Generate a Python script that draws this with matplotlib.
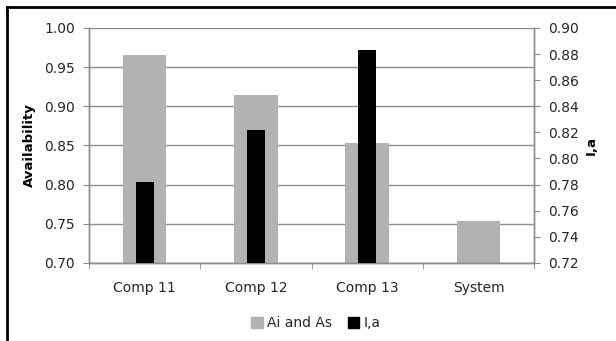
import matplotlib
matplotlib.use('Agg')
import numpy as np
import matplotlib.pyplot as plt
from matplotlib.lines import Line2D
from matplotlib.patches import Patch

categories = ['Comp 11', 'Comp 12', 'Comp 13', 'System']
availability = [0.965, 0.915, 0.853, 0.753]   # Ai and As, left axis
ia_values = [0.782, 0.822, 0.883]             # I,a, right axis (no System value)

left_ticks = [0.70, 0.75, 0.80, 0.85, 0.90, 0.95, 1.00]
right_ticks = [0.72, 0.74, 0.76, 0.78, 0.80, 0.82, 0.84, 0.86, 0.88, 0.90]

GRAY = '#b2b2b2'
AXIS = '#8c8c8c'
TEXT = '#262626'

plt.rcParams['font.family'] = 'DejaVu Sans'
plt.rcParams['font.size'] = 10

fig = plt.figure(figsize=(6.16, 3.41), dpi=100)
ax = fig.add_axes([0.1445, 0.229, 0.7225, 0.689])
ax2 = ax.twinx()

x = np.arange(len(categories))
ax.bar(x, availability, width=0.39, color=GRAY, zorder=2)
ax2.bar(x[:len(ia_values)], ia_values, width=0.16, color='black', zorder=3)

ax.set_xlim(-0.5, len(categories) - 0.5)
ax.set_ylim(0.70, 1.00)
ax2.set_ylim(0.72, 0.90)
ax.set_yticks(left_ticks)
ax.set_yticklabels([f'{v:.2f}' for v in left_ticks])
ax2.set_yticks(right_ticks)
ax2.set_yticklabels([f'{v:.2f}' for v in right_ticks])

ax.set_xticks(x)
ax.set_xticklabels(categories)
ax.set_xticks(np.arange(-0.5, len(categories)), minor=True)
ax.tick_params(axis='x', which='major', length=0, pad=13, colors=TEXT)
ax.tick_params(axis='x', which='minor', length=4, color=AXIS, direction='out')
ax.tick_params(axis='y', length=4, color=AXIS, colors=TEXT, pad=6)
ax2.tick_params(axis='y', length=4, color=AXIS, colors=TEXT, pad=6)

ax.yaxis.grid(True, color=AXIS, linewidth=1, zorder=0)
ax.set_axisbelow(True)
for a in (ax, ax2):
    a.spines['top'].set_visible(False)
    for s in ('left', 'right', 'bottom'):
        a.spines[s].set_color(AXIS)
        a.spines[s].set_linewidth(1)

ax.set_ylabel('Availability', fontweight='bold', fontsize=9.5, color='black', labelpad=6)
ax2.set_ylabel('I,a', fontweight='bold', fontsize=9.5, color='black', rotation=90, labelpad=4)

handles = [Patch(color=GRAY, label='Ai and As'), Patch(color='black', label='I,a')]
fig.legend(handles=handles, loc='center', bbox_to_anchor=(0.513, 0.052), ncol=2,
           frameon=False, handlelength=0.8, handleheight=0.8, handletextpad=0.3,
           columnspacing=1.2, labelcolor=TEXT)

# frame edges along the left and top of the figure
fig.add_artist(Line2D([0.012, 0.012], [0, 0.98], transform=fig.transFigure, color='black', lw=2))
fig.add_artist(Line2D([0.011, 1.0], [0.979, 0.979], transform=fig.transFigure, color='black', lw=2))

fig.savefig('out.png', dpi=100)
